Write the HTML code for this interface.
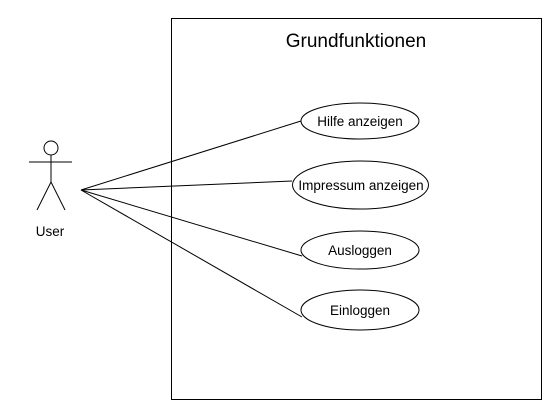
<!DOCTYPE html>
<html><head><meta charset="utf-8"><style>
html,body{margin:0;padding:0;background:#fff;}
svg{display:block;font-family:"Liberation Sans",sans-serif;}
</style></head><body>
<svg width="560" height="420" viewBox="0 0 560 420">
<rect x="171.5" y="18.5" width="370" height="381" fill="#fff" stroke="#000"/>
<text x="356" y="47" font-size="19" text-anchor="middle">Grundfunktionen</text>
<g stroke="#000" fill="none">
<line x1="81" y1="190" x2="301" y2="121"/>
<line x1="81" y1="190" x2="292" y2="181"/>
<line x1="81" y1="190" x2="302" y2="256"/>
<line x1="81" y1="190" x2="302" y2="317"/>
</g>
<g stroke="#000" fill="none">
<circle cx="51" cy="148" r="7" fill="#fff"/>
<line x1="51" y1="155" x2="51" y2="182"/>
<line x1="29" y1="162" x2="72" y2="162"/>
<line x1="51" y1="182" x2="37" y2="210"/>
<line x1="51" y1="182" x2="65" y2="210"/>
</g>
<text x="50" y="236" font-size="13.5" text-anchor="middle">User</text>
<g stroke="#000" fill="#fff">
<ellipse cx="360" cy="121" rx="59" ry="18"/>
<ellipse cx="360.5" cy="185" rx="68" ry="24"/>
<ellipse cx="360" cy="250" rx="59" ry="19"/>
<ellipse cx="360" cy="310" rx="59" ry="20"/>
</g>
<g font-size="13.5" text-anchor="middle" fill="#000">
<text x="360" y="126">Hilfe anzeigen</text>
<text x="361" y="190">Impressum anzeigen</text>
<text x="360" y="255">Ausloggen</text>
<text x="360" y="315">Einloggen</text>
</g>
</svg>
</body></html>
